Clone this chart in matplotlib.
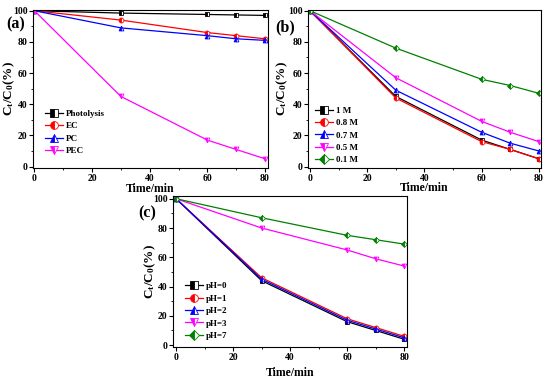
import matplotlib
matplotlib.use('Agg')
from matplotlib import pyplot as plt
from matplotlib.ticker import MultipleLocator

plt.rcParams['font.family'] = ['Liberation Serif', 'DejaVu Serif']
plt.rcParams['font.weight'] = 'bold'
plt.rcParams['mathtext.fontset'] = 'custom'
plt.rcParams['mathtext.rm'] = 'Liberation Serif:bold'
plt.rcParams['mathtext.it'] = 'Liberation Serif:bold'
plt.rcParams['mathtext.bf'] = 'Liberation Serif:bold'

time = [0, 30, 60, 70, 80]

# (a) process comparison
labels_a = ['Photolysis', 'EC', 'PC', 'PEC']
photolysis = [100, 98.5, 97.6, 97.3, 97]
ec = [100, 94, 86, 84, 82]
pc = [100, 89, 84, 82, 81]
pec = [100, 45, 17, 11, 5]

# (b) electrolyte concentration
labels_b = ['1 M', '0.8 M', '0.7 M', '0.5 M', '0.1 M']
c1 = [100, 45, 17, 11, 5]
c08 = [100, 44, 16, 11, 5]
c07 = [100, 49, 22, 15, 10]
c05 = [100, 57, 29, 22, 16]
c01 = [100, 76, 56, 52, 47]

# (c) pH
labels_c = ['pH=0', 'pH=1', 'pH=2', 'pH=3', 'pH=7']
ph0 = [100, 44, 16, 10, 4]
ph1 = [100, 46, 18, 12, 6]
ph2 = [100, 45, 17, 11, 5]
ph3 = [100, 80, 65, 59, 54]
ph7 = [100, 87, 75, 72, 69]

colors = ['black', 'red', 'blue', 'magenta', 'green']
markers = ['s', 'o', '^', 'v', 'D']

fig = plt.figure(figsize=(5.5, 3.83), dpi=100)


def panel(rect, series, labels, xlim, ylim, leg_anchor, tag, tag_xy, ylab_x, xlab_y):
    ax = fig.add_axes(rect)
    for i, (y, lab) in enumerate(zip(series, labels)):
        ax.plot(time, y, color=colors[i], lw=0.9, marker=markers[i],
                ms=3.5 if markers[i] != 'D' else 3, mew=0.6,
                fillstyle='left', markerfacecoloralt='white',
                mec=colors[i], label=lab)
    ax.set_xlim(*xlim)
    ax.set_ylim(*ylim)
    ax.xaxis.set_major_locator(MultipleLocator(20))
    ax.xaxis.set_minor_locator(MultipleLocator(10))
    ax.yaxis.set_major_locator(MultipleLocator(20))
    ax.yaxis.set_minor_locator(MultipleLocator(10))
    ax.tick_params(which='both', direction='out', labelsize=7, pad=1.2)
    ax.tick_params(which='major', length=2.8, width=0.8)
    ax.tick_params(which='minor', length=1.6, width=0.6)
    for s in ax.spines.values():
        s.set_linewidth(0.8)
    ax.set_xlabel('Time/min', fontsize=8.5, fontweight='bold')
    ax.set_ylabel('C$_t$/C$_0$(%)', fontsize=9.5, fontweight='bold')
    ax.yaxis.set_label_coords(ylab_x, 0.5)
    ax.xaxis.set_label_coords(0.5, xlab_y)
    ax.xaxis.label.set_va('center')
    ax.yaxis.label.set_va('center')
    ax.legend(loc='upper left', bbox_to_anchor=leg_anchor, frameon=False,
              borderpad=0, borderaxespad=0, handlelength=2.0,
              handletextpad=0.3, labelspacing=0.45, markerscale=1.6,
              prop={'weight': 'bold', 'size': 6.5})
    fig.text(tag_xy[0], tag_xy[1], tag, fontsize=11.5, fontweight='bold',
             ha='left', va='center')
    return ax


panel([0.06, 0.561, 0.427, 0.413], [photolysis, ec, pc, pec], labels_a,
      (-0.5, 81), (-1, 100.5), (0.05, 0.37), '(a)', (0.012, 0.937),
      -0.1, -0.129)
panel([0.56, 0.561, 0.424, 0.413], [c1, c08, c07, c05, c01], labels_b,
      (-0.7, 80.8), (-1, 100.5), (0.03, 0.39), '(b)', (0.5, 0.928),
      -0.11, -0.125)
panel([0.315, 0.094, 0.425, 0.394], [ph0, ph1, ph2, ph3, ph7], labels_c,
      (-1, 81), (-1.3, 101.8), (0.05, 0.43), '(c)', (0.252, 0.444),
      -0.1, -0.17)

fig.savefig('out.png', dpi=100)
